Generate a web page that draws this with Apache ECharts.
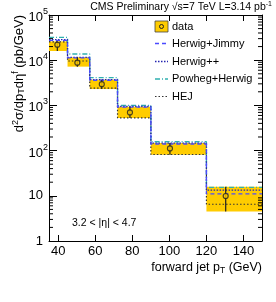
<!DOCTYPE html>
<html><head><meta charset="utf-8">
<script src="https://cdn.jsdelivr.net/npm/echarts@6/dist/echarts.min.js"></script>
<style>html,body{margin:0;padding:0;background:#fff}#c{width:276px;height:302px}</style>
</head><body><div id="c"></div>
<script>
// ---- data ----
const binEdges = [35, 45, 57, 72, 90, 120, 150];
const dataX = [39.5, 50.3, 63.5, 78.7, 100.3, 130.4];
const dataY = [2.2e4, 8.8e3, 2.95e3, 700, 112, 9.9];
const dataHi = [2.6e4, 1.16e4, 3.7e3, 930, 148, 15.9];
const dataLo = [1.6e4, 7.2e3, 2.3e3, 525, 81, 4.5];
const herwigJimmy = [2.75e4, 1.13e4, 3.6e3, 920, 140, 11];
const herwigPP = [2.85e4, 1.16e4, 3.7e3, 945, 146, 13.4];
const powhegHerwig = [3.2e4, 1.37e4, 4.1e3, 1005, 157, 15.4];
const hej = [2.55e4, 9.6e3, 2.4e3, 530, 82, 6.5];
const xTicks = [40, 60, 80, 100, 120, 140];
const yTicks = [1, 10, 100, 1000, 10000, 100000];
const yMinorMantissa = [2, 3, 4, 5, 6, 7, 8, 9];

const FONT = '"Liberation Sans", Arial, Helvetica, sans-serif';
const X_MIN = binEdges[0], X_MAX = binEdges[binEdges.length - 1];

function stepData(vals) {
  const d = vals.map((v, i) => [binEdges[i], v]);
  d.push([binEdges[binEdges.length - 1], vals[vals.length - 1]]);
  return d;
}
const bandData = dataLo.map((lo, i) => [binEdges[i], binEdges[i + 1], lo, dataHi[i]]);
const errData = dataX.map((x, i) => [x, dataLo[i], dataHi[i]]);
const ptData = dataX.map((x, i) => [x, dataY[i]]);
const minorData = [];
for (let k = 0; k < yTicks.length - 1; k++) for (const m of yMinorMantissa) minorData.push([X_MIN, m * yTicks[k]]);

const rich = {
  b: { fontSize: 13, fontFamily: FONT, color: '#000', padding: [5, 0, 0, 0] },
  b0: { fontSize: 13, fontFamily: FONT, color: '#000' },
  s: { fontSize: 9, fontFamily: FONT, color: '#000', padding: [0, 0, 7, 0] },
  g: { width: 5 }
};

const chart = echarts.init(document.getElementById('c'), null, { renderer: 'canvas' });
const lineSeries = (name, vals, color, dash, w) => ({
  name, type: 'line', step: 'end', data: stepData(vals), symbol: 'none',
  lineStyle: { color, width: w, type: dash }, z: 3, silent: true, clip: true
});

chart.setOption({
  animation: false,
  backgroundColor: '#fff',
  grid: { left: 49, right: 14, top: 15, bottom: 61 },
  xAxis: [{
    type: 'value', min: X_MIN, max: X_MAX, position: 'bottom',
    axisLine: { show: true, onZero: false, lineStyle: { color: '#000', width: 1 } },
    axisTick: { show: true, inside: true, length: 6, customValues: xTicks, lineStyle: { color: '#000' } },
    axisLabel: { customValues: xTicks, fontSize: 13, fontFamily: FONT, color: '#000', margin: 4 },
    splitLine: { show: false }
  }, {
    type: 'value', min: X_MIN, max: X_MAX, position: 'top',
    axisLine: { show: true, onZero: false, lineStyle: { color: '#000', width: 1 } },
    axisTick: { show: true, inside: true, length: 6, customValues: xTicks, lineStyle: { color: '#000' } },
    axisLabel: { show: false }, splitLine: { show: false }
  }],
  yAxis: [{
    type: 'log', logBase: 10, min: yTicks[0], max: yTicks[yTicks.length - 1], interval: 1, position: 'left',
    axisLine: { show: true, onZero: false, lineStyle: { color: '#000', width: 1 } },
    axisTick: { show: true, inside: true, length: 8, lineStyle: { color: '#000' } },
    axisLabel: {
      margin: 1, rich,
      formatter: v => {
        const e = Math.round(Math.log10(v));
        if (e === 0) return '{b0|1}{g|}';
        if (e === 1) return '{b0|10}{g|}';
        return '{b|10}{s|' + e + '}';
      }
    },
    splitLine: { show: false }
  }, {
    type: 'log', logBase: 10, min: yTicks[0], max: yTicks[yTicks.length - 1], interval: 1, position: 'right',
    axisLine: { show: true, onZero: false, lineStyle: { color: '#000', width: 1 } },
    axisTick: { show: true, inside: true, length: 8, lineStyle: { color: '#000' } },
    axisLabel: { show: false }, splitLine: { show: false }
  }],
  series: [
    {
      name: 'data band', type: 'custom', data: bandData, encode: { x: [0, 1], y: [2, 3] }, z: 1, silent: true,
      renderItem: (params, api) => {
        const p1 = api.coord([api.value(0), api.value(3)]);
        const p2 = api.coord([api.value(1), api.value(2)]);
        return { type: 'rect', shape: { x: p1[0], y: p1[1], width: p2[0] - p1[0], height: p2[1] - p1[1] },
                 style: { fill: '#FFCC00' } };
      }
    },
    {
      name: 'minor ticks', type: 'custom', data: minorData, encode: { x: 0, y: 1 }, z: 5, silent: true,
      renderItem: (params, api) => {
        const v = api.value(1);
        const pl = api.coord([X_MIN, v]);
        const pr = api.coord([X_MAX, v]);
        return { type: 'group', children: [
          { type: 'line', shape: { x1: pl[0], y1: pl[1], x2: pl[0] + 4, y2: pl[1] }, style: { stroke: '#000', lineWidth: 1 } },
          { type: 'line', shape: { x1: pr[0] - 4, y1: pr[1], x2: pr[0], y2: pr[1] }, style: { stroke: '#000', lineWidth: 1 } }
        ] };
      }
    },
    lineSeries('HEJ', hej, '#333333', [1.5, 2], 1.2),
    lineSeries('Powheg+Herwig', powhegHerwig, '#30b0b0', [5, 2, 1, 2], 1.3),
    lineSeries('Herwig++', herwigPP, '#2424b0', [1.5, 1.5], 1.3),
    lineSeries('Herwig+Jimmy', herwigJimmy, '#4a4aff', [4, 3], 1.3),
    {
      name: 'data err', type: 'custom', data: errData, encode: { x: 0, y: [1, 2] }, z: 6, silent: true,
      renderItem: (params, api) => {
        const a = api.coord([api.value(0), api.value(1)]);
        const b = api.coord([api.value(0), api.value(2)]);
        return { type: 'line', shape: { x1: a[0], y1: a[1], x2: b[0], y2: b[1] }, style: { stroke: '#222', lineWidth: 1.2 } };
      }
    },
    {
      name: 'data', type: 'scatter', data: ptData, symbol: 'circle', symbolSize: 5, z: 7, silent: true,
      itemStyle: { color: '#FFCC00', borderColor: '#222', borderWidth: 1.2 }
    }
  ],
  graphic: [
    { type: 'text', right: 4, top: 1, style: { text: 'CMS Preliminary √s=7 TeV L=3.14 pb{s|-1}', rich: { s: { fontSize: 7, fontFamily: FONT, padding: [0, 0, 5, 0], fill: '#000' } }, fontSize: 10.5, fontFamily: FONT, fill: '#000' } },
    { type: 'text', x: 262, y: 268, style: { text: 'forward jet p{sb|T} (GeV)', align: 'right', verticalAlign: 'middle', fontSize: 12.5, fontFamily: FONT, fill: '#000',
      rich: { sb: { fontSize: 8.5, fontFamily: FONT, padding: [6, 0, 0, 0], fill: '#000' } } } },
    { type: 'text', x: 19, y: 15, rotation: Math.PI / 2, style: { text: 'd{s|2}σ/dp{sb|T}dη{s|f} (pb/GeV)', align: 'right', verticalAlign: 'middle', fontSize: 13, fontFamily: FONT, fill: '#000',
      rich: { s: { fontSize: 9, fontFamily: FONT, padding: [0, 0, 7, 0], fill: '#000' }, sb: { fontSize: 9, fontFamily: FONT, padding: [6, 0, 0, 0], fill: '#000' } } } },
    { type: 'text', x: 72, y: 223, style: { text: '3.2 < |η| < 4.7', verticalAlign: 'middle', fontSize: 10.5, fontFamily: FONT, fill: '#000' } },
    // legend
    { type: 'rect', shape: { x: 155, y: 21, width: 13, height: 11 }, style: { fill: '#FFCC00', stroke: '#444', lineWidth: 0.8 } },
    { type: 'circle', shape: { cx: 161.5, cy: 26.5, r: 2 }, style: { fill: '#FFCC00', stroke: '#222', lineWidth: 1 } },
    { type: 'text', x: 172, y: 26.5, style: { text: 'data', verticalAlign: 'middle', fontSize: 11, fontFamily: FONT, fill: '#000' } },
    { type: 'line', shape: { x1: 155, y1: 43.5, x2: 168, y2: 43.5 }, style: { stroke: '#4a4aff', lineWidth: 1.3, lineDash: [4, 3] } },
    { type: 'text', x: 172, y: 43.5, style: { text: 'Herwig+Jimmy', verticalAlign: 'middle', fontSize: 11, fontFamily: FONT, fill: '#000' } },
    { type: 'line', shape: { x1: 155, y1: 61.5, x2: 168, y2: 61.5 }, style: { stroke: '#2424b0', lineWidth: 1.3, lineDash: [1.5, 1.5] } },
    { type: 'text', x: 172, y: 61.5, style: { text: 'Herwig++', verticalAlign: 'middle', fontSize: 11, fontFamily: FONT, fill: '#000' } },
    { type: 'line', shape: { x1: 155, y1: 79, x2: 168, y2: 79 }, style: { stroke: '#30b0b0', lineWidth: 1.3, lineDash: [5, 2, 1, 2] } },
    { type: 'text', x: 172, y: 79, style: { text: 'Powheg+Herwig', verticalAlign: 'middle', fontSize: 11, fontFamily: FONT, fill: '#000' } },
    { type: 'line', shape: { x1: 155, y1: 96.5, x2: 168, y2: 96.5 }, style: { stroke: '#333333', lineWidth: 1.2, lineDash: [1.5, 2] } },
    { type: 'text', x: 172, y: 96.5, style: { text: 'HEJ', verticalAlign: 'middle', fontSize: 11, fontFamily: FONT, fill: '#000' } }
  ]
});
</script></body></html>
